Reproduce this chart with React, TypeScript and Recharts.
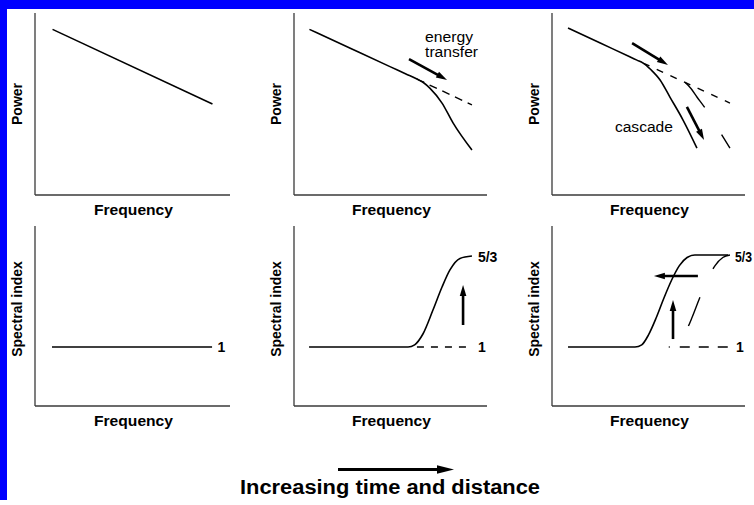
import React from "react";
import { LineChart, Line, XAxis, YAxis, ReferenceLine, ReferenceDot } from "recharts";

type Pt = { x: number; y: number };

// all panels use a 0..100 frame on both axes

// top row: power spectra
const powerStart: Pt[] = [
  { x: 9, y: 91 },
  { x: 91, y: 50 },
];
const powerMiddle: Pt[] = [
  { x: 8, y: 91 },
  { x: 30, y: 80.2 },
  { x: 50, y: 70.4 },
  { x: 58, y: 66.5 },
  { x: 63.7, y: 63.7 },
  { x: 67, y: 61.8 },
  { x: 70.5, y: 58.6 },
  { x: 76.7, y: 50.5 },
  { x: 82.4, y: 39.6 },
  { x: 92.2, y: 24.7 },
];
const powerMiddleOld: Pt[] = [
  { x: 63.7, y: 63.7 },
  { x: 92.2, y: 49.5 },
];
const powerLate: Pt[] = [
  { x: 8.3, y: 91.8 },
  { x: 25, y: 83.5 },
  { x: 40, y: 76.1 },
  { x: 44, y: 74.1 },
  { x: 47.2, y: 72.5 },
  { x: 51.3, y: 68.8 },
  { x: 56, y: 63.2 },
  { x: 61.1, y: 53.8 },
  { x: 67.9, y: 41.2 },
  { x: 75.1, y: 25.8 },
];
const powerLateOld: Pt[] = [
  { x: 47.2, y: 72.5 },
  { x: 92.2, y: 50.5 },
];
const powerLateNext: Pt[] = [
  { x: 68.9, y: 61.9 },
  { x: 72, y: 58.5 },
  { x: 75, y: 54 },
  { x: 79.3, y: 47.8 },
  { x: 84, y: 40 },
  { x: 88.6, y: 31.9 },
  { x: 92.2, y: 25.8 },
];

// bottom row: spectral index
const indexStart: Pt[] = [
  { x: 8.7, y: 32.8 },
  { x: 90.8, y: 32.8 },
];
const indexMiddle: Pt[] = [
  { x: 7.8, y: 32.8 },
  { x: 59.1, y: 32.8 },
  { x: 62.5, y: 34 },
  { x: 66.8, y: 40 },
  { x: 72, y: 53.3 },
  { x: 76.7, y: 66.1 },
  { x: 80.8, y: 75.6 },
  { x: 86, y: 82 },
  { x: 92.2, y: 83.3 },
];
const indexMiddleOld: Pt[] = [
  { x: 63.7, y: 32.8 },
  { x: 89.6, y: 32.8 },
];
const indexLate: Pt[] = [
  { x: 8.3, y: 32.8 },
  { x: 43, y: 32.8 },
  { x: 46.5, y: 34 },
  { x: 50, y: 39.5 },
  { x: 54, y: 49 },
  { x: 58, y: 60 },
  { x: 62, y: 70 },
  { x: 66, y: 78 },
  { x: 70, y: 82.5 },
  { x: 74, y: 83.9 },
  { x: 91.2, y: 83.9 },
];
const indexLateOld: Pt[] = [
  { x: 60.5, y: 32.8 },
  { x: 92.2, y: 32.8 },
];
const indexLateNext: Pt[] = [
  { x: 61.5, y: 32.8 },
  { x: 65, y: 34 },
  { x: 68.5, y: 39.5 },
  { x: 72.5, y: 49 },
  { x: 76.5, y: 60 },
  { x: 80.5, y: 70 },
  { x: 84.5, y: 78 },
  { x: 88.5, y: 82.5 },
  { x: 92.2, y: 83.9 },
];

// arrows (from -> to)
const arrowsMiddle: Pt[][] = [[{ x: 59.6, y: 74.7 }, { x: 79.3, y: 63.2 }]];
const arrowsLate: Pt[][] = [
  [{ x: 41.5, y: 83.5 }, { x: 60.1, y: 71.4 }],
  [{ x: 69.9, y: 48.4 }, { x: 78.8, y: 30.2 }],
];
const arrowsIndexMiddle: Pt[][] = [[{ x: 87.6, y: 45 }, { x: 87.6, y: 67.2 }]];
const arrowsIndexLate: Pt[][] = [
  [{ x: 75.6, y: 72.2 }, { x: 52.8, y: 72.2 }],
  [{ x: 62.7, y: 37.2 }, { x: 62.7, y: 58.9 }],
];

type Note = { x: number; y: number; text: string; len?: number; bold?: boolean };
const notesMiddle: Note[] = [
  { x: 67.9, y: 84.1, text: "energy", len: 48 },
  { x: 67.9, y: 75.8, text: "transfer", len: 53 },
];
const notesLate: Note[] = [{ x: 32.6, y: 34.6, text: "cascade", len: 58 }];
const notesIndexStart: Note[] = [{ x: 93.6, y: 30, text: "1", bold: true }];
const notesIndexMiddle: Note[] = [
  { x: 95.3, y: 80, text: "5/3", bold: true },
  { x: 95.3, y: 30, text: "1", bold: true },
];
const notesIndexLate: Note[] = [
  { x: 94.8, y: 80, text: "5/3", bold: true, len: 17 },
  { x: 95.3, y: 30, text: "1", bold: true },
];

const FONT = "'Liberation Sans', Arial, Helvetica, sans-serif";
const AXIS = "#3a3a3a";
const INK = "#000";
const YW = 30;
const XH = 30;
const RM = 30;

function Arrow(props: any) {
  const { x1, y1, x2, y2 } = props;
  const dx = x2 - x1;
  const dy = y2 - y1;
  const len = Math.hypot(dx, dy) || 1;
  const ux = dx / len;
  const uy = dy / len;
  const hl = 11;
  const hw = 3.3;
  const bx = x2 - ux * hl;
  const by = y2 - uy * hl;
  return (
    <g>
      <line x1={x1} y1={y1} x2={bx + ux * 2} y2={by + uy * 2} stroke={INK} strokeWidth={2.6} />
      <polygon
        points={`${x2},${y2} ${bx - uy * hw},${by + ux * hw} ${bx + uy * hw},${by - ux * hw}`}
        fill={INK}
      />
    </g>
  );
}

function noteShape(n: Note) {
  return (p: any) => (
    <text
      x={p.cx}
      y={p.cy}
      fontFamily={FONT}
      fontSize={14}
      fontWeight={n.bold ? 700 : 400}
      fill={INK}
      textLength={n.len}
      lengthAdjust={n.len ? "spacingAndGlyphs" : undefined}
    >
      {n.text}
    </text>
  );
}

interface PanelProps {
  left: number;
  top: number;
  plotW: number;
  plotH: number;
  yLabel: string;
  yShift: number;
  children?: React.ReactNode;
}

function Panel({ left, top, plotW, plotH, yLabel, yShift, children }: PanelProps) {
  return (
    <div style={{ position: "absolute", left: left - YW, top }}>
      <LineChart
        width={YW + plotW + RM}
        height={plotH + XH}
        margin={{ top: 0, right: RM, bottom: 0, left: 0 }}
      >
        <XAxis
          type="number"
          dataKey="x"
          domain={[0, 100]}
          tick={false}
          tickLine={false}
          axisLine={{ stroke: AXIS, strokeWidth: 1.3 }}
          height={XH}
          label={{
            content: (p: any) => {
              const vb = p.viewBox || {};
              return (
                <text
                  x={vb.x + vb.width / 2 + 1}
                  y={vb.y + 20}
                  textAnchor="middle"
                  fontFamily={FONT}
                  fontSize={14}
                  fontWeight={700}
                  fill={INK}
                  textLength={79}
                  lengthAdjust="spacingAndGlyphs"
                >
                  Frequency
                </text>
              );
            },
          }}
        />
        <YAxis
          type="number"
          domain={[0, 100]}
          tick={false}
          tickLine={false}
          axisLine={{ stroke: AXIS, strokeWidth: 1.3 }}
          width={YW}
          label={{
            content: (p: any) => {
              const vb = p.viewBox || {};
              const cx = vb.x + vb.width - 18;
              const cy = vb.y + vb.height / 2 + yShift;
              return (
                <text
                  x={cx}
                  y={cy}
                  transform={`rotate(-90 ${cx} ${cy})`}
                  textAnchor="middle"
                  dominantBaseline="central"
                  fontFamily={FONT}
                  fontSize={14}
                  fontWeight={700}
                  fill={INK}
                >
                  {yLabel}
                </text>
              );
            },
          }}
        />
        {children}
      </LineChart>
    </div>
  );
}

function solid(key: string, data: Pt[], type: "linear" | "monotone" = "monotone") {
  return (
    <Line
      key={key}
      data={data}
      dataKey="y"
      type={type}
      stroke={INK}
      strokeWidth={1.6}
      dot={false}
      activeDot={false}
      isAnimationActive={false}
    />
  );
}

function dashed(key: string, data: Pt[], dash: string, type: "linear" | "monotone" = "linear") {
  return (
    <Line
      key={key}
      data={data}
      dataKey="y"
      type={type}
      stroke={INK}
      strokeWidth={1.4}
      strokeDasharray={dash}
      dot={false}
      activeDot={false}
      isAnimationActive={false}
    />
  );
}

function arrows(prefix: string, list: Pt[][]) {
  return list.map((seg, i) => (
    <ReferenceLine key={`${prefix}${i}`} segment={seg} shape={Arrow} />
  ));
}

function notes(prefix: string, list: Note[]) {
  return list.map((n, i) => (
    <ReferenceDot key={`${prefix}${i}`} x={n.x} y={n.y} r={0} shape={noteShape(n)} />
  ));
}

export default function App() {
  return (
    <div
      style={{
        position: "absolute",
        left: 0,
        top: 0,
        width: 754,
        height: 505,
        background: "#fff",
        overflow: "hidden",
      }}
    >
      <div style={{ position: "absolute", left: 0, top: 0, width: 754, height: 9, background: "#0000ff" }} />
      <div style={{ position: "absolute", left: 0, top: 0, width: 7, height: 500, background: "#0000ff" }} />

      <Panel left={35} top={13} plotW={195} plotH={182} yLabel="Power" yShift={0}>
        {solid("a", powerStart, "linear")}
      </Panel>
      <Panel left={294} top={13} plotW={193} plotH={182} yLabel="Power" yShift={0}>
        {dashed("b0", powerMiddleOld, "8 6")}
        {solid("b1", powerMiddle)}
        {arrows("ba", arrowsMiddle)}
        {notes("bn", notesMiddle)}
      </Panel>
      <Panel left={552} top={13} plotW={193} plotH={182} yLabel="Power" yShift={0}>
        {dashed("c0", powerLateOld, "7 8")}
        {dashed("c1", powerLateNext, "32 32", "monotone")}
        {solid("c2", powerLate)}
        {arrows("ca", arrowsLate)}
        {notes("cn", notesLate)}
      </Panel>

      <Panel left={35} top={226} plotW={195} plotH={180} yLabel="Spectral index" yShift={-7}>
        {solid("d", indexStart, "linear")}
        {notes("dn", notesIndexStart)}
      </Panel>
      <Panel left={294} top={226} plotW={193} plotH={180} yLabel="Spectral index" yShift={-7}>
        {dashed("e0", indexMiddleOld, "7 7")}
        {solid("e1", indexMiddle)}
        {arrows("ea", arrowsIndexMiddle)}
        {notes("en", notesIndexMiddle)}
      </Panel>
      <Panel left={552} top={226} plotW={193} plotH={180} yLabel="Spectral index" yShift={-7}>
        {dashed("f0", indexLateOld, "1 10 10 9 10 9 10 9")}
        {dashed("f1", indexLateNext, "0 29 31 31 60 100", "monotone")}
        {solid("f2", indexLate)}
        {arrows("fa", arrowsIndexLate)}
        {notes("fn", notesIndexLate)}
      </Panel>

      <svg
        width={754}
        height={505}
        style={{ position: "absolute", left: 0, top: 0, pointerEvents: "none" }}
      >
        <line x1={338} y1={469.5} x2={440} y2={469.5} stroke={INK} strokeWidth={3} />
        <polygon points="454,469.5 437,465.3 437,473.7" fill={INK} />
        <text
          x={390}
          y={494}
          textAnchor="middle"
          fontFamily={FONT}
          fontSize={20}
          fontWeight={700}
          fill={INK}
          textLength={300}
          lengthAdjust="spacingAndGlyphs"
        >
          Increasing time and distance
        </text>
      </svg>
    </div>
  );
}
